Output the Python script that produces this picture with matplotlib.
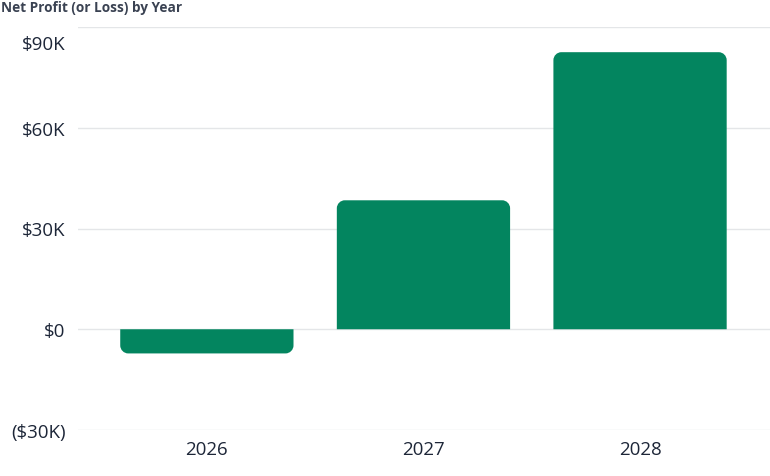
import matplotlib
matplotlib.use("Agg")
import matplotlib.pyplot as plt
from matplotlib.path import Path
from matplotlib.patches import PathPatch
from matplotlib.transforms import ScaledTranslation

plt.rcParams['font.family'] = ['Open Sans', 'DejaVu Sans']

# donnees
annees = ["2026", "2027", "2028"]
profits = [-7200, 38400, 82500]
ticks_y = [-30000, 0, 30000, 60000, 90000]
labels_y = ["($30K)", "$0", "$30K", "$60K", "$90K"]

vert = "#03855f"
texte = "#1d2638"

fig = plt.figure(figsize=(7.7, 4.77), dpi=100)
ax = fig.add_axes([78 / 770, 1 - 431 / 477, 1 - 78 / 770, (431 - 28) / 477])

x = list(range(len(annees)))
barres = ax.bar(x, profits, width=0.8, color=vert)
ax.set_xlim(-0.595, 2.6)
ax.set_ylim(-30000, 90000)


def barre_arrondie(rect, rx, ry):
    # coins arrondis du cote oppose a zero
    x0 = rect.get_x()
    x1 = x0 + rect.get_width()
    base = rect.get_y()
    bout = base + rect.get_height()
    s = 1 if bout > base else -1
    k = 0.5523
    verts = [
        (x0, base),
        (x0, bout - s * ry),
        (x0, bout - s * ry * (1 - k)), (x0 + rx * (1 - k), bout), (x0 + rx, bout),
        (x1 - rx, bout),
        (x1 - rx * (1 - k), bout), (x1, bout - s * ry * (1 - k)), (x1, bout - s * ry),
        (x1, base),
        (x0, base),
    ]
    codes = [Path.MOVETO, Path.LINETO,
             Path.CURVE4, Path.CURVE4, Path.CURVE4,
             Path.LINETO,
             Path.CURVE4, Path.CURVE4, Path.CURVE4,
             Path.LINETO, Path.CLOSEPOLY]
    return Path(verts, codes)


# rayon des coins ~8 px converti en unites de donnees
rx = 8 / 217
ry = 8 / (403 / 120000)
for r in barres:
    r.set_visible(False)
    ax.add_patch(PathPatch(barre_arrondie(r, rx, ry), facecolor=vert,
                           edgecolor="none", zorder=3))

ax.set_yticks(ticks_y)
ax.set_yticklabels(labels_y)
ax.set_xticks(x)
ax.set_xticklabels(annees)
ax.tick_params(axis="both", length=0, labelsize=13.5, colors=texte)
ax.tick_params(axis="y", pad=9)
ax.tick_params(axis="x", pad=7)

# la derniere etiquette est decalee vers le bas
lbl = ax.get_yticklabels()[-1]
lbl.set_transform(lbl.get_transform() + ScaledTranslation(0, -15 / 100, fig.dpi_scale_trans))

ax.grid(axis="y", color="#e4e6e8", linewidth=1)
ax.set_axisbelow(True)
for sp in ax.spines.values():
    sp.set_visible(False)

fig.text(1 / 770, 1 - 8 / 477, "Net Profit (or Loss) by Year", fontsize=9.8,
         fontweight="bold", color="#3a4252", va="center", ha="left")

fig.savefig("out.png", dpi=100)
